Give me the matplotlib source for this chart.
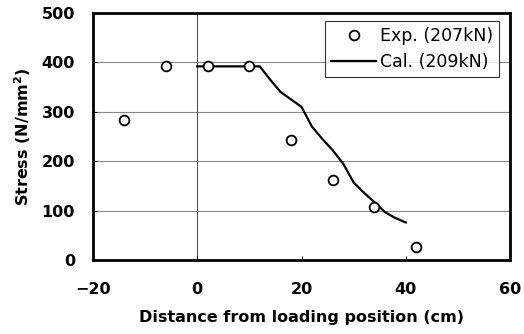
import matplotlib
matplotlib.use('Agg')
import matplotlib.pyplot as plt

# experimental points
exp_x = [-14, -6, 2, 10, 18, 26, 34, 42]
exp_y = [283, 393, 393, 393, 243, 162, 107, 26]

# calculated curve
cal_x = [0, 12, 14, 16, 18, 20, 22, 24, 26, 28, 30, 32, 34, 36, 38, 40]
cal_y = [392, 392, 365, 340, 325, 310, 270, 245, 222, 195, 157, 136, 117, 97, 85, 76]

plt.rcParams['font.family'] = ['DejaVu Sans']

fig = plt.figure(figsize=(5.24, 3.34), dpi=100)
ax = fig.add_axes([93 / 524, 1 - 260 / 334, 417 / 524, 247 / 334])

ax.plot(cal_x, cal_y, color='black', lw=1.6, label='Cal. (209kN)', zorder=3)
ax.plot(exp_x, exp_y, 'o', ms=7, mfc='white', mec='black', mew=1.3,
        label='Exp. (207kN)', zorder=4)

ax.set_xlim(-20, 60)
ax.set_ylim(0, 500)
ax.set_xticks([-20, 0, 20, 40, 60])
ax.set_xticklabels(['\u221220', '0', '20', '40', '60'])
ax.set_yticks([0, 100, 200, 300, 400, 500])

for y in [100, 200, 300, 400]:
    ax.axhline(y, color='#888888', lw=0.8, zorder=1)
ax.axvline(0, color='#555555', lw=0.8, zorder=1)

for s in ax.spines.values():
    s.set_linewidth(2)

ax.tick_params(axis='both', direction='in', length=3, width=0.8, labelsize=11.5)
ax.tick_params(axis='x', pad=16)
ax.tick_params(axis='y', pad=13)
for lab in ax.get_xticklabels() + ax.get_yticklabels():
    lab.set_fontweight('bold')

ax.set_ylabel('Stress (N/mm$^\\mathbf{2}$)', fontsize=11.5, fontweight='bold', labelpad=6)
ax.set_xlabel('Distance from loading position (cm)', fontsize=11.5, fontweight='bold', labelpad=9)

handles, labels = ax.get_legend_handles_labels()
leg = ax.legend(handles[::-1], labels[::-1], loc='upper right', fontsize=12.5,
                frameon=True, fancybox=False, edgecolor='black',
                bbox_to_anchor=(499 / 524, 1 - 21 / 334), bbox_transform=fig.transFigure,
                borderaxespad=0, handlelength=2.6, handletextpad=0.2,
                labelspacing=0.45, borderpad=0.35)
leg.get_frame().set_linewidth(0.8)

fig.savefig('out.png', dpi=100)
